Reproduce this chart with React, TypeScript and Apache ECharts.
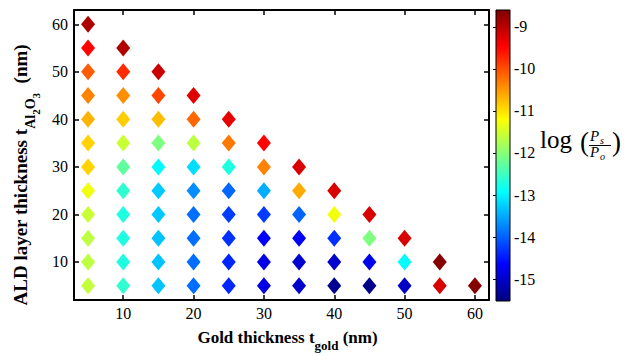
import React, { useEffect, useRef } from 'react';
import * as echarts from 'echarts';

// Gold thickness (x) and ALD Al2O3 layer thickness (y), in nm
const goldThickness = [5, 10, 15, 20, 25, 30, 35, 40, 45, 50, 55, 60];
const aldThickness = [5, 10, 15, 20, 25, 30, 35, 40, 45, 50, 55, 60];

// log(Ps/Po) per ALD row, ordered by gold thickness
const logRatioAld5 = [-11.6, -12.6, -13.33, -13.9, -14.4, -14.85, -15.0, -15.4, -15.45, -15.05, -9.2, -8.65];
const logRatioAld10 = [-11.64, -12.72, -13.33, -13.9, -14.4, -14.81, -14.97, -15.0, -14.8, -12.93, -8.65];
const logRatioAld15 = [-11.64, -12.72, -13.33, -13.9, -14.33, -14.66, -14.7, -14.33, -12.07, -9.2];
const logRatioAld20 = [-11.55, -12.72, -13.3, -13.9, -14.23, -14.25, -13.97, -11.28, -9.2];
const logRatioAld25 = [-11.28, -12.61, -13.28, -13.69, -13.95, -13.47, -10.63, -9.2];
const logRatioAld30 = [-10.9, -12.28, -12.95, -13.15, -12.72, -10.35, -9.2];
const logRatioAld35 = [-10.89, -11.55, -12.07, -11.64, -10.29, -9.48];
const logRatioAld40 = [-10.68, -10.86, -10.75, -10.17, -9.31];
const logRatioAld45 = [-10.35, -10.43, -9.94, -9.25];
const logRatioAld50 = [-10.09, -9.75, -9.11];
const logRatioAld55 = [-9.48, -8.93];
const logRatioAld60 = [-8.91];

const logRatioRows = [
  logRatioAld5, logRatioAld10, logRatioAld15, logRatioAld20, logRatioAld25, logRatioAld30,
  logRatioAld35, logRatioAld40, logRatioAld45, logRatioAld50, logRatioAld55, logRatioAld60,
];

const xTicks = [10, 20, 30, 40, 50, 60];
const yTicks = [10, 20, 30, 40, 50, 60];
const colorbarTicks = [-15, -14, -13, -12, -11, -10, -9];
const xMin = 3;
const xMax = 62;
const yMin = 2;
const yMax = 63;
const colorMin = -15.52;
const colorMax = -8.6;

const jetColors = [
  '#00007F', '#0000FF', '#007FFF', '#00FFFF', '#7FFF7F', '#FFFF00', '#FF7F00', '#FF0000', '#7F0000',
];

const FONT = '"Liberation Serif", "Times New Roman", serif';

export default function App() {
  const ref = useRef<HTMLDivElement>(null);

  useEffect(() => {
    if (!ref.current) return;
    const chart = echarts.init(ref.current, undefined, { renderer: 'svg' });

    const scatterData: number[][] = [];
    aldThickness.forEach((ald, i) => {
      logRatioRows[i].forEach((v, j) => {
        scatterData.push([goldThickness[j], ald, v]);
      });
    });

    const stops = jetColors.map((c, i) => ({ offset: i / (jetColors.length - 1), color: c }));

    const axisLineStyle = { color: '#000', width: 2 };
    const tickStyle = { color: '#000', width: 1.5 };
    const labelStyle = { color: '#000', fontSize: 16, fontFamily: FONT };
    const bold = { fontWeight: 'bold', fontFamily: FONT, color: '#000', verticalAlign: 'top' };
    const txt = (x: number, y: number, text: string, font: string) => ({
      type: 'text', x, y,
      style: { text, font, fill: '#000', textAlign: 'left', textVerticalAlign: 'middle', align: 'left', verticalAlign: 'middle' },
    });

    const option: any = {
      animation: false,
      backgroundColor: '#fff',
      grid: [
        { left: 74, top: 10, width: 415, height: 290, outerBoundsMode: 'none', containLabel: false },
        { left: 496, top: 10, width: 14, height: 291, outerBoundsMode: 'none', containLabel: false },
      ],
      xAxis: [
        {
          gridIndex: 0, type: 'value', min: xMin, max: xMax, position: 'bottom',
          axisLine: { show: true, onZero: false, lineStyle: axisLineStyle },
          axisTick: { show: true, inside: true, length: 5, lineStyle: tickStyle, customValues: xTicks },
          axisLabel: { ...labelStyle, margin: 5, customValues: xTicks },
          splitLine: { show: false },
          name: '{a|Gold thickness t}{s|gold}{m| (nm)}',
          nameLocation: 'middle',
          nameGap: 29,
          nameTextStyle: {
            rich: {
              a: { ...bold, fontSize: 17, padding: [0, 0, 0, 12] },
              m: { ...bold, fontSize: 17 },
              s: { ...bold, fontSize: 13, padding: [10, 0, 0, 0] },
            },
          },
        },
        {
          gridIndex: 0, type: 'value', min: xMin, max: xMax, position: 'top',
          axisLine: { show: true, onZero: false, lineStyle: axisLineStyle },
          axisTick: { show: true, inside: true, length: 5, lineStyle: tickStyle, customValues: xTicks },
          axisLabel: { show: false },
          splitLine: { show: false },
        },
        { gridIndex: 1, type: 'value', min: 0, max: 1, show: false },
      ],
      yAxis: [
        {
          gridIndex: 0, type: 'value', min: yMin, max: yMax, position: 'left',
          axisLine: { show: true, onZero: false, lineStyle: axisLineStyle },
          axisTick: { show: true, inside: true, length: 5, lineStyle: tickStyle, customValues: yTicks },
          axisLabel: { ...labelStyle, margin: 6, customValues: yTicks },
          splitLine: { show: false },
          name: '{m|ALD layer thickness t}{s|Al}{ss|2}{s|O}{ss|3}{e|  (nm)}',
          nameLocation: 'middle',
          nameRotate: 90,
          nameGap: 2,
          nameTextStyle: {
            rich: {
              m: { ...bold, fontSize: 19 },
              e: { ...bold, fontSize: 19, padding: [0, 40, 0, 0] },
              s: { ...bold, fontSize: 14, padding: [12, 0, 0, 0] },
              ss: { ...bold, fontSize: 11, padding: [19, 0, 0, 0] },
            },
          },
        },
        {
          gridIndex: 0, type: 'value', min: yMin, max: yMax, position: 'right',
          axisLine: { show: true, onZero: false, lineStyle: axisLineStyle },
          axisTick: { show: true, inside: true, length: 5, lineStyle: tickStyle, customValues: yTicks },
          axisLabel: { show: false },
          splitLine: { show: false },
        },
        {
          gridIndex: 1, type: 'value', min: colorMin, max: colorMax, position: 'right', z: 10,
          axisLine: { show: false },
          axisTick: { show: true, inside: true, length: 3, lineStyle: { color: '#000', width: 1 }, customValues: colorbarTicks },
          axisLabel: { ...labelStyle, margin: 4, customValues: colorbarTicks },
          splitLine: { show: false },
        },
      ],
      visualMap: [
        {
          type: 'continuous', show: false, seriesIndex: 0, dimension: 2,
          min: colorMin, max: colorMax, inRange: { color: jetColors },
        },
      ],
      series: [
        {
          type: 'scatter',
          xAxisIndex: 0,
          yAxisIndex: 0,
          symbol: 'diamond',
          symbolSize: [14, 17],
          itemStyle: { opacity: 1 },
          data: scatterData,
          z: 3,
        },
        {
          type: 'custom',
          xAxisIndex: 2,
          yAxisIndex: 2,
          z: 1,
          clip: false,
          encode: { x: [0, 2], y: [1, 3] },
          data: [[0, colorMin, 1, colorMax]],
          renderItem: (params: any, api: any) => {
            const p0 = api.coord([api.value(0), api.value(1)]);
            const p1 = api.coord([api.value(2), api.value(3)]);
            return {
              type: 'rect',
              shape: { x: p0[0], y: p1[1], width: p1[0] - p0[0], height: p0[1] - p1[1] },
              style: {
                fill: new echarts.graphic.LinearGradient(0, 1, 0, 0, stops),
                stroke: '#000',
                lineWidth: 1,
              },
            };
          },
        },
      ],
      graphic: [
        {
          type: 'group',
          children: [
            txt(540, 139, 'log', `25px ${FONT}`),
            txt(580, 142, '(', `27px ${FONT}`),
            txt(590, 136, 'P', `italic 15px ${FONT}`),
            txt(600, 140, 's', `italic 10px ${FONT}`),
            { type: 'line', shape: { x1: 589, y1: 145.5, x2: 611, y2: 145.5 }, style: { stroke: '#000', lineWidth: 1 } },
            txt(590, 152, 'P', `italic 15px ${FONT}`),
            txt(600, 156, 'o', `italic 10px ${FONT}`),
            txt(612, 142, ')', `27px ${FONT}`),
          ],
        },
      ],
    };

    chart.setOption(option);
    return () => chart.dispose();
  }, []);

  return (
    <div
      ref={ref}
      style={{ position: 'absolute', left: 0, top: 0, width: 624, height: 356, background: '#fff' }}
    />
  );
}
